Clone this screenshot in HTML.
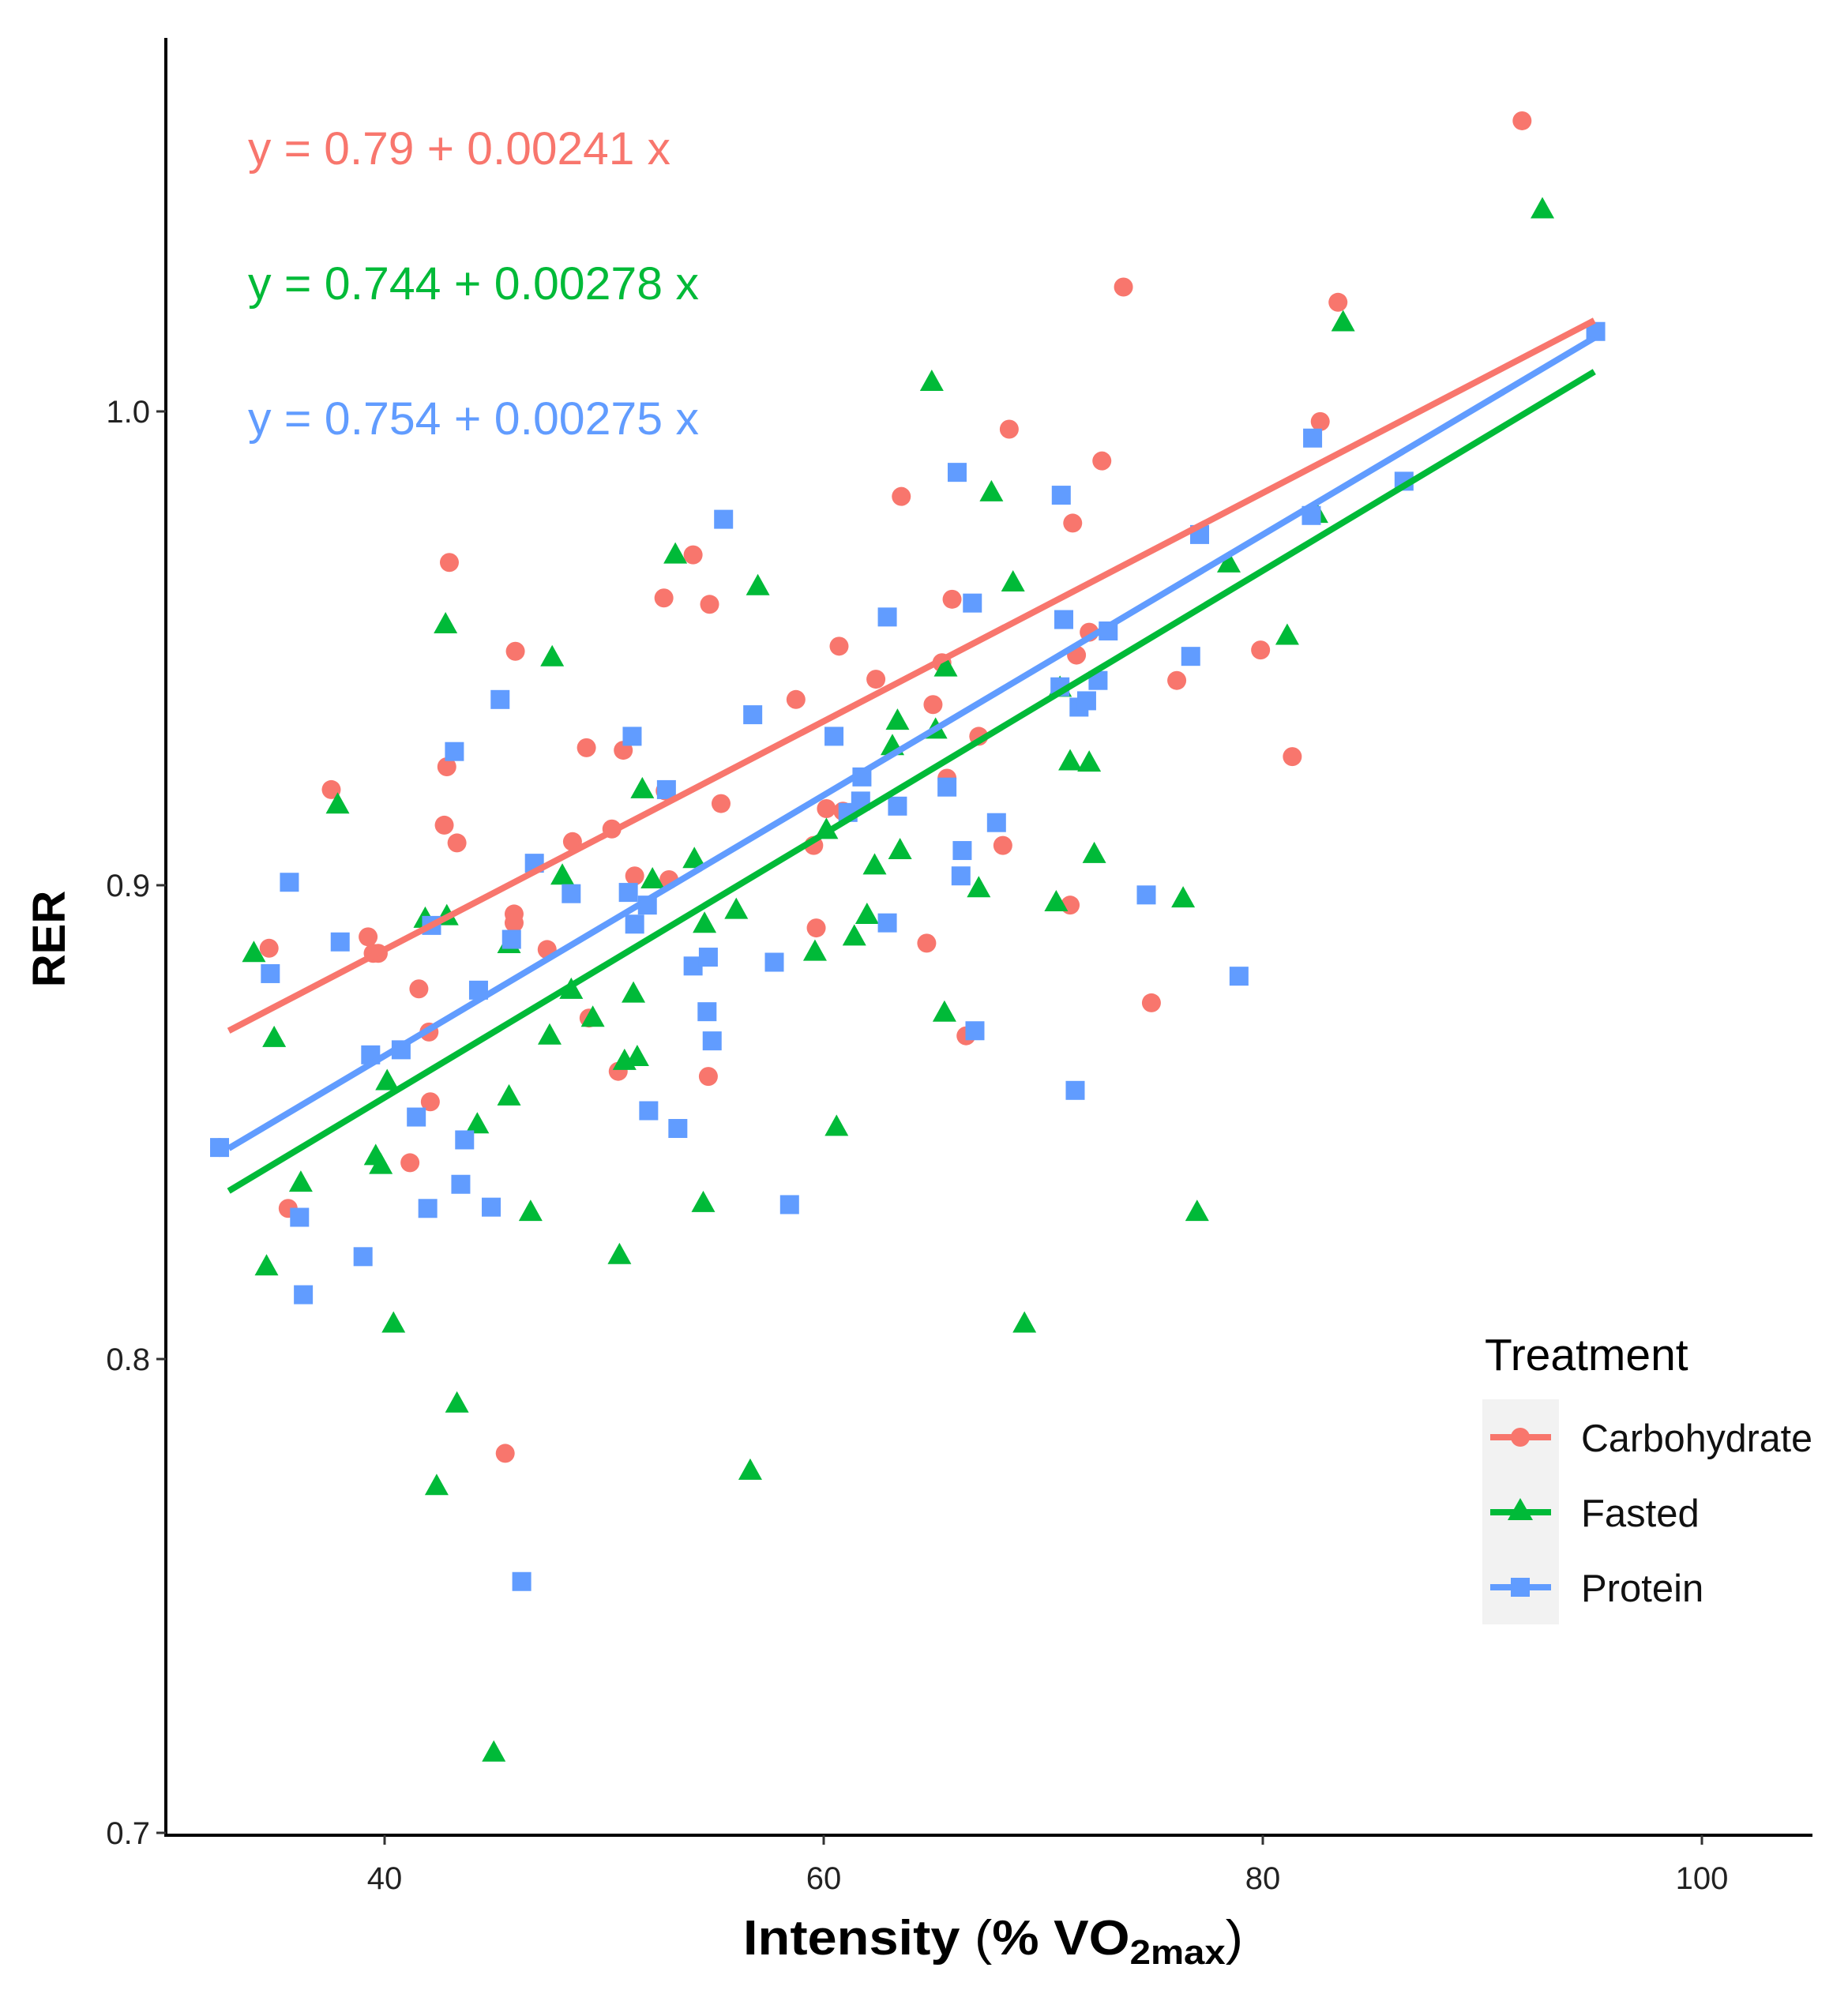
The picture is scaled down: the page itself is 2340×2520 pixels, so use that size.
<!DOCTYPE html>
<html><head><meta charset="utf-8"><style>html,body{margin:0;padding:0;background:#fff}svg{display:block}</style></head>
<body>
<svg id="s" width="2340" height="2520" viewBox="0 0 2340 2520" xmlns="http://www.w3.org/2000/svg" font-family="Liberation Sans, sans-serif">
<rect width="2340" height="2520" fill="#fff"/>
<g id="pts"></g>
<g id="lines"></g>
<line x1="210" y1="48" x2="210" y2="2326" stroke="#000" stroke-width="4"/>
<line x1="208" y1="2324" x2="2295" y2="2324" stroke="#000" stroke-width="4"/>
<g stroke="#333" stroke-width="3">
<line x1="487" y1="2324" x2="487" y2="2336"/><line x1="1043" y1="2324" x2="1043" y2="2336"/>
<line x1="1599" y1="2324" x2="1599" y2="2336"/><line x1="2155" y1="2324" x2="2155" y2="2336"/>
<line x1="198" y1="521" x2="210" y2="521"/><line x1="198" y1="1121" x2="210" y2="1121"/>
<line x1="198" y1="1721" x2="210" y2="1721"/><line x1="198" y1="2321" x2="210" y2="2321"/>
</g>
<g font-size="40" fill="#222" text-anchor="middle">
<text x="487" y="2392">40</text><text x="1043" y="2392">60</text><text x="1599" y="2392">80</text><text x="2155" y="2392">100</text>
</g>
<g font-size="40" fill="#222" text-anchor="end">
<text x="190" y="535">1.0</text><text x="190" y="1135">0.9</text><text x="190" y="1735">0.8</text><text x="190" y="2335">0.7</text>
</g>
<text transform="translate(82,1189) rotate(-90)" font-size="58" font-weight="bold" text-anchor="middle">RER</text>
<text x="941" y="2475" font-size="62" font-weight="bold" textLength="633" lengthAdjust="spacingAndGlyphs">Intensity <tspan font-weight="normal">(</tspan>% VO<tspan font-size="44" dy="12">2max</tspan><tspan font-weight="normal" dy="-12">)</tspan></text>
<text x="314" y="208" font-size="58" fill="#F8766D" textLength="535" lengthAdjust="spacingAndGlyphs">y = 0.79 + 0.00241 x</text>
<text x="314" y="379" font-size="58" fill="#00BA38" textLength="571" lengthAdjust="spacingAndGlyphs">y = 0.744 + 0.00278 x</text>
<text x="314" y="550" font-size="58" fill="#619CFF" textLength="571" lengthAdjust="spacingAndGlyphs">y = 0.754 + 0.00275 x</text>
<text x="1880" y="1735" font-size="57">Treatment</text>
<rect x="1877" y="1772" width="97" height="285" fill="#f2f2f2"/>
<g stroke-width="8">
<line x1="1887" y1="1820" x2="1964" y2="1820" stroke="#F8766D"/>
<line x1="1887" y1="1915" x2="1964" y2="1915" stroke="#00BA38"/>
<line x1="1887" y1="2010" x2="1964" y2="2010" stroke="#619CFF"/>
</g>
<circle cx="1925" cy="1820" r="12" fill="#F8766D"/>
<polygon points="1925,1897 1941,1925 1909,1925" fill="#00BA38"/>
<rect x="1913" y="1998" width="24" height="24" fill="#619CFF"/>
<g font-size="49" fill="#111">
<text x="2002" y="1838" textLength="293" lengthAdjust="spacingAndGlyphs">Carbohydrate</text>
<text x="2002" y="1933">Fasted</text>
<text x="2002" y="2028">Protein</text>
</g>
</svg>
<script>
var NS="http://www.w3.org/2000/svg";
function X(px){return 487+(px-303)*1.6075;}
function Y(py){return 521+(py-323)*1.6071;}
function xd(v){return 487+(v-40)*27.8;}
function yd(v){return 521+(1.0-v)*6000;}
var red=[[173,903],[212,746],[227,951],[261,621],[290,737],[294,750],[298,750],[330,778],[338,812],[339,867],[323,915],[350,649],[352,603],[354,442],[360,663],[405,719],[406,512],[405,726],[398,1144],[431,747],[451,662],[462,588],[464,801],[482,652],[487,843],[491,590],[500,689],[523,470],[524,622],[527,692],[546,436],[559,475],[568,632],[558,847],[627,550],[643,730],[641,665],[651,636],[661,508],[664,638],[690,534],[710,390],[730,742],[735,554],[742,521],[746,612],[750,471],[761,815],[771,579],[790,665],[795,337],[843,712],[845,411],[848,515],[858,497],[868,362],[885,225],[907,789],[927,535],[993,511],[1018,595],[1040,331],[1054,237],[1199,94]];
var green=[[200,750],[210,997],[216,817],[237,931],[266,633],[296,910],[300,917],[305,851],[310,1042],[335,723],[344,1170],[351,491],[352,721],[360,1105],[376,885],[389,1380],[401,863],[401,743],[418,954],[435,517],[433,815],[443,689],[450,779],[467,801],[488,988],[492,835],[499,782],[502,832],[506,621],[514,692],[532,436],[547,676],[554,947],[555,727],[580,716],[591,1158],[597,461],[642,749],[651,653],[659,887],[673,737],[683,720],[689,681],[703,587],[707,567],[709,669],[734,300],[737,574],[744,797],[745,525],[771,699],[781,387],[798,458],[807,1042],[832,710],[835,541],[843,599],[858,600],[862,672],[932,707],[943,954],[968,443],[1014,500],[1037,404],[1058,253],[1215,164]];
var blue=[[173,903],[213,766],[228,694],[236,958],[239,1019],[268,741],[286,989],[292,830],[316,826],[328,879],[337,951],[340,728],[358,591],[363,932],[366,897],[377,779],[387,950],[394,550],[403,739],[411,1245],[421,679],[450,703],[498,579],[495,702],[500,727],[511,874],[510,712],[525,621],[534,888],[546,760],[557,796],[558,753],[561,819],[570,408],[593,562],[610,757],[622,948],[657,579],[668,639],[678,630],[679,611],[699,485],[699,726],[707,634],[746,619],[754,371],[757,689],[758,669],[766,474],[768,811],[785,647],[836,389],[838,487],[835,540],[847,858],[850,556],[856,551],[865,535],[873,496],[903,704],[938,516],[945,420],[976,768],[1034,344],[1033,405],[1106,378],[1257,260]];
var g=document.getElementById("pts");
function el(t,a){var e=document.createElementNS(NS,t);for(var k in a)e.setAttribute(k,a[k]);return e;}
red.forEach(function(p){g.appendChild(el("circle",{cx:X(p[0]),cy:Y(p[1]),r:12,fill:"#F8766D"}));});
green.forEach(function(p){var x=X(p[0]),y=Y(p[1]);g.appendChild(el("polygon",{points:x+","+(y-16)+" "+(x+15)+","+(y+11)+" "+(x-15)+","+(y+11),fill:"#00BA38"}));});
blue.forEach(function(p){g.appendChild(el("rect",{x:X(p[0])-12,y:Y(p[1])-12,width:24,height:24,fill:"#619CFF"}));});
var L=document.getElementById("lines");
[[0.79,0.00241,"#F8766D"],[0.744,0.00278,"#00BA38"],[0.754,0.00275,"#619CFF"]].forEach(function(c){
 var x0=32.9,x1=95.1;
 L.appendChild(el("line",{x1:xd(x0),y1:yd(c[0]+c[1]*x0),x2:xd(x1),y2:yd(c[0]+c[1]*x1),stroke:c[2],"stroke-width":8}));
});
</script>
</body></html>
